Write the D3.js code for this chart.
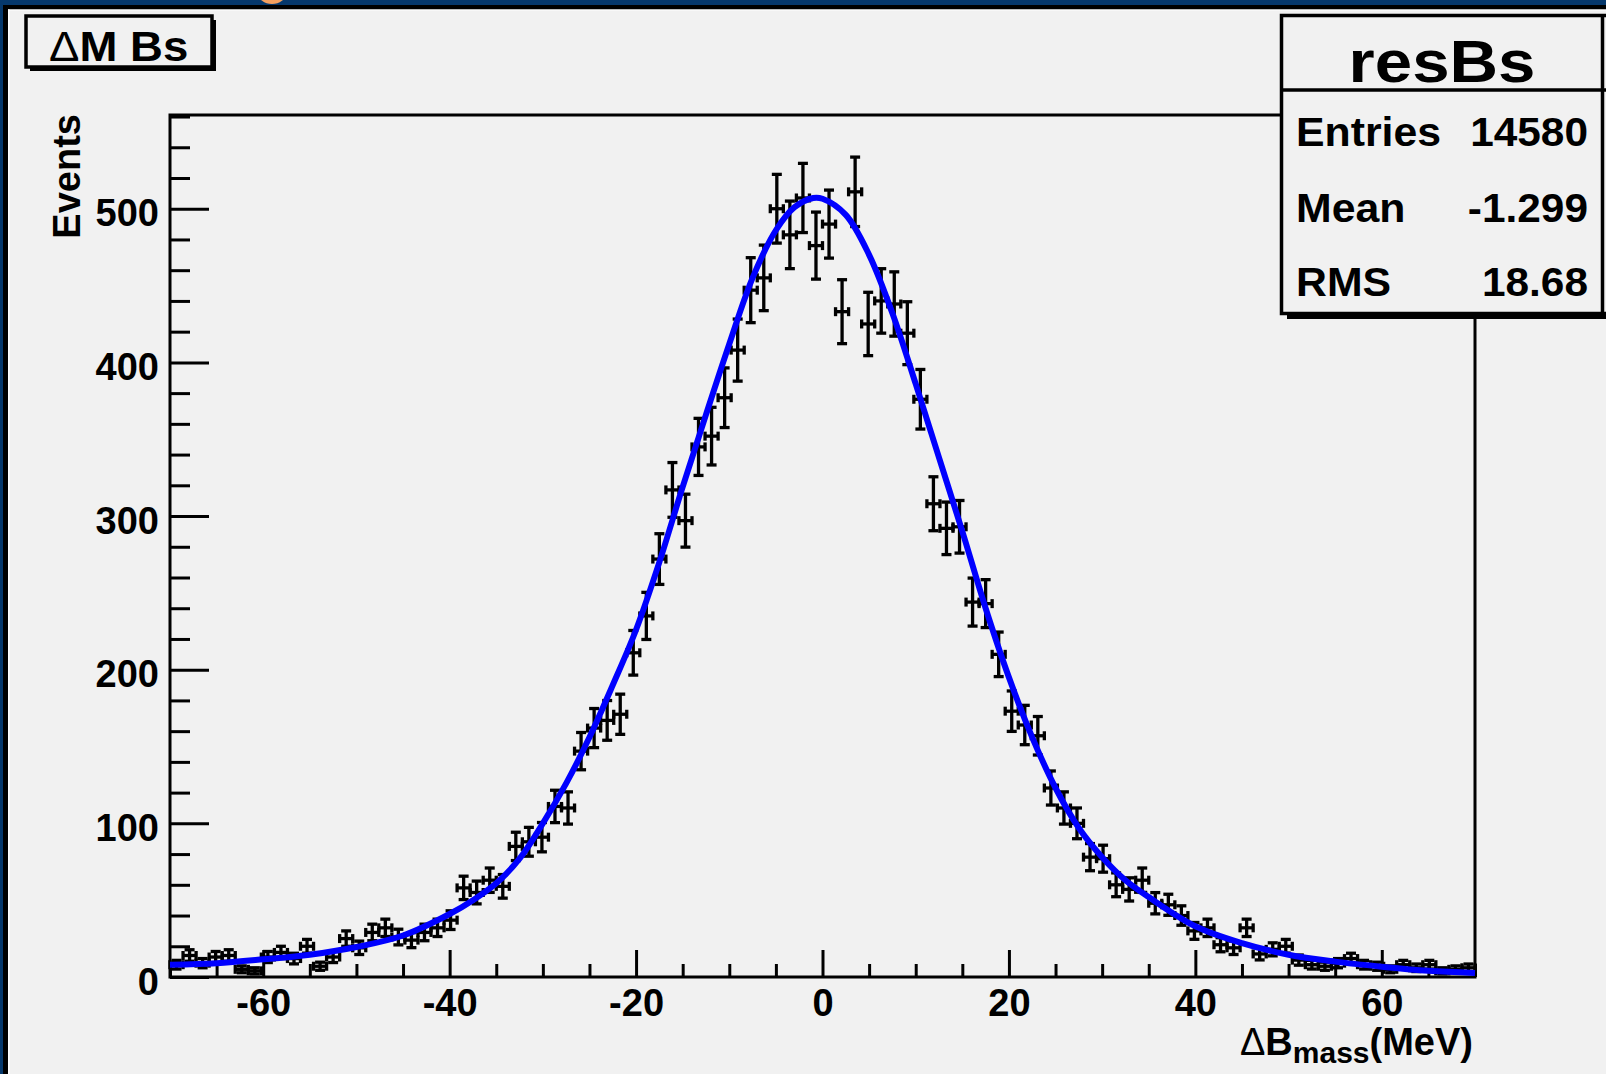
<!DOCTYPE html>
<html><head>
<meta charset="utf-8">
<title>resBs - Delta M Bs</title>
<script src="https://d3js.org/d3.v7.min.js"></script>
<style>
  body { margin: 0; background: #f1f1f1; }
  svg text { font-family: "Liberation Sans", Arial, Helvetica, sans-serif; font-weight: bold; fill: #000; }
  .axis .domain { stroke: none; }
  .axis line { stroke: #000; stroke-width: 3; }
  .axis text { font-size: 38px; }
  .errbar line { stroke: #000; stroke-width: 3.3; }
</style>
</head>
<body>
<svg id="histo" width="1606" height="1074"></svg>

<script>
// histogram: 100 bins from -70 to 70 MeV
const xMin = -70, xMax = 70, nBins = 100;
const counts = [
  8, 14, 9, 13, 14, 5, 4, 13, 16, 12,
  20, 7, 13, 25, 19, 29, 32, 26, 24, 29,
  32, 37, 58, 55, 63, 59, 85, 88, 91, 111,
  110, 147, 162, 167, 171, 211, 235, 272, 317, 297,
  345, 352, 377, 408, 447, 455, 500, 483, 507, 476,
  490, 433, 511, 425, 440, 438, 419, 376, 308, 292,
  293, 244, 243, 210, 173, 164, 157, 123, 110, 100,
  78, 77, 60, 57, 63, 48, 47, 40, 30, 32,
  21, 19, 32, 15, 18, 20, 11, 8, 7, 9,
  12, 8, 7, 5, 8, 6, 8, 4, 5, 6
];

// blue fit curve, sampled by eye
const fitX = [-70, -65, -60, -55, -50, -45, -40, -37.5, -35, -32.5, -30, -27.5, -25, -22.5, -20, -17.5,
              -15, -12.5, -10, -7.5, -5, -3, -1, 0, 2.5, 5, 7.5, 10, 12.5, 15, 17.5, 20, 22.5,
              25, 27.5, 30, 32.5, 35, 40, 45, 50, 55, 60, 65, 70];
const fitY = [8, 9, 11.5, 14.5, 19.5, 27, 41, 50, 61, 77, 100, 126, 156, 190, 226, 270,
              319, 366, 412, 455, 486, 501, 507, 506.5, 496, 470, 432, 386, 338, 290, 240, 195, 156,
              123, 97, 78, 63, 52, 33, 22, 14.5, 10, 6.7, 4, 2.6];

// axes and labels
const xMajor = [-60, -40, -20, 0, 20, 40, 60];
const xMinor = d3.range(-70, 71, 5);
const yMajor = [0, 100, 200, 300, 400, 500];
const yMinor = d3.range(0, 561, 20);
const yTop = 561;

const statNames = ["Entries", "Mean", "RMS"];
const statValues = ["14580", "-1.299", "18.68"];

let svg = d3.select("svg#histo");

// frame of the plot in pixels
let frame = { left: 170, top: 115, right: 1475, bottom: 977 };

// 0. background pieces: navy strip with the black border of the pad
svg.append("rect").attr("x", 0).attr("y", 0).attr("width", 1606).attr("height", 1074).attr("fill", "#f1f1f1");
svg.append("rect").attr("x", 0).attr("y", 0).attr("width", 1606).attr("height", 5).attr("fill", "#06386c");
svg.append("rect").attr("x", 0).attr("y", 0).attr("width", 3).attr("height", 1074).attr("fill", "#06386c");
svg.append("ellipse").attr("cx", 272).attr("cy", -7).attr("rx", 14).attr("ry", 11).attr("fill", "#f4a060");
svg.append("rect").attr("x", 3).attr("y", 5).attr("width", 1603).attr("height", 4.5).attr("fill", "#000");
svg.append("rect").attr("x", 3).attr("y", 5).attr("width", 5).attr("height", 1069).attr("fill", "#000");
svg.append("rect").attr("x", 8).attr("y", 9.5).attr("width", 1598).attr("height", 1).attr("fill", "#fff");
svg.append("rect").attr("x", 8).attr("y", 9.5).attr("width", 1.5).attr("height", 1065).attr("fill", "#fff");

// 1. scales
const xScale = d3.scaleLinear().domain([xMin, xMax]).range([frame.left, frame.right]);
const yScale = d3.scaleLinear().domain([0, yTop]).range([frame.bottom, frame.top]);

// 2. axes, ROOT style: ticks pointing into the frame
svg.append("g").attr("class", "axis")
  .attr("transform", "translate(0," + frame.bottom + ")")
  .call(d3.axisBottom(xScale).tickValues(xMinor.filter(d => !xMajor.includes(d))).tickSize(-13).tickFormat(""));
svg.append("g").attr("class", "axis")
  .attr("transform", "translate(0," + frame.bottom + ")")
  .call(d3.axisBottom(xScale).tickValues(xMajor).tickSize(-27).tickPadding(12).tickFormat(d => String(d)));

svg.append("g").attr("class", "axis")
  .attr("transform", "translate(" + frame.left + ",0)")
  .call(d3.axisLeft(yScale).tickValues(yMinor.filter(d => !yMajor.includes(d))).tickSize(-20).tickFormat(""));
svg.append("g").attr("class", "axis y")
  .attr("transform", "translate(" + frame.left + ",0)")
  .call(d3.axisLeft(yScale).tickValues(yMajor).tickSize(-39).tickPadding(11).tickFormat(d => String(d)))
  .selectAll("text").attr("dy", "0.45em");

// frame box
svg.append("rect")
  .attr("x", frame.left).attr("y", frame.top)
  .attr("width", frame.right - frame.left).attr("height", frame.bottom - frame.top)
  .attr("fill", "none").attr("stroke", "#000").attr("stroke-width", 3);

// axis titles
svg.append("text")
  .attr("transform", "translate(80,114) rotate(-90)")
  .attr("text-anchor", "end")
  .style("font-size", "38px")
  .text("Events");

let xTitle = svg.append("text")
  .attr("x", 1473).attr("y", 1055)
  .attr("text-anchor", "end")
  .style("font-size", "38px");
xTitle.append("tspan").style("font-weight", "normal").text("\u0394");
xTitle.append("tspan").text("B");
xTitle.append("tspan").attr("dy", 8).style("font-size", "30px").text("mass");
xTitle.append("tspan").attr("dy", -8).text("(MeV)");

// 3. data points with error bars (sqrt(N), bin width)
const binW = (xMax - xMin) / nBins;
let points = svg.append("g").attr("class", "errbar");
counts.forEach((n, i) => {
  if (n <= 0) return;
  let c = xMin + (i + 0.5) * binW;
  let err = Math.sqrt(n);
  let px = xScale(c), py = yScale(n);
  let x0 = xScale(c - binW / 2), x1 = xScale(c + binW / 2);
  let y0 = yScale(n - err), y1 = yScale(n + err);
  let g = points.append("g");
  g.append("line").attr("x1", px).attr("x2", px).attr("y1", y0).attr("y2", y1);
  g.append("line").attr("x1", x0).attr("x2", x1).attr("y1", py).attr("y2", py);
  // end caps
  g.append("line").attr("x1", px - 5).attr("x2", px + 5).attr("y1", y0).attr("y2", y0);
  g.append("line").attr("x1", px - 5).attr("x2", px + 5).attr("y1", y1).attr("y2", y1);
  g.append("line").attr("x1", x0).attr("x2", x0).attr("y1", py - 4.5).attr("y2", py + 4.5);
  g.append("line").attr("x1", x1).attr("x2", x1).attr("y1", py - 4.5).attr("y2", py + 4.5);
});

// 4. the fit
const fitLine = d3.line()
  .x((d, i) => xScale(fitX[i]))
  .y(d => yScale(d))
  .curve(d3.curveCatmullRom);
svg.append("path")
  .attr("d", fitLine(fitY))
  .attr("fill", "none")
  .attr("stroke", "#0000ff")
  .attr("stroke-width", 6)
  .attr("stroke-linejoin", "round");

// 5. title pave, with its shadow
svg.append("rect").attr("x", 30).attr("y", 20).attr("width", 186).attr("height", 51).attr("fill", "#000");
svg.append("rect").attr("x", 26).attr("y", 16).attr("width", 186).attr("height", 51)
  .attr("fill", "#f1f1f1").attr("stroke", "#000").attr("stroke-width", 3.5);
let title = svg.append("text").attr("transform", "translate(49,61) scale(1.06,1)").style("font-size", "43px");
title.append("tspan").style("font-weight", "normal").text("\u0394");
title.append("tspan").text("M Bs");

// 6. stats box
svg.append("rect").attr("x", 1287).attr("y", 21).attr("width", 330).attr("height", 298).attr("fill", "#000");
svg.append("rect").attr("x", 1281.5).attr("y", 15.5).attr("width", 330).attr("height", 298)
  .attr("fill", "#f1f1f1").attr("stroke", "#000").attr("stroke-width", 3.5);
svg.append("line").attr("x1", 1281.5).attr("x2", 1606).attr("y1", 90).attr("y2", 90)
  .attr("stroke", "#000").attr("stroke-width", 3.5);
svg.append("line").attr("x1", 1602.5).attr("x2", 1602.5).attr("y1", 15.5).attr("y2", 313.5)
  .attr("stroke", "#000").attr("stroke-width", 3.5);
svg.append("text").attr("transform", "translate(1442,82) scale(1.12,1)").attr("text-anchor", "middle")
  .style("font-size", "60px").text("resBs");

const statY = [146, 222, 296];
statNames.forEach((s, i) => {
  svg.append("text").attr("transform", "translate(1296," + statY[i] + ") scale(1.07,1)")
    .style("font-size", "40px").text(s);
  svg.append("text").attr("transform", "translate(1588," + statY[i] + ") scale(1.06,1)")
    .attr("text-anchor", "end").style("font-size", "40px").text(statValues[i]);
});
</script>
</body>
</html>
